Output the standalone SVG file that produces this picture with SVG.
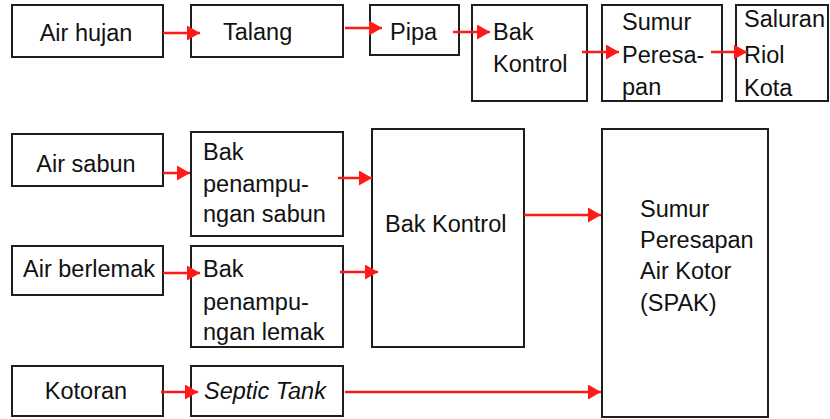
<svg xmlns="http://www.w3.org/2000/svg" width="830" height="419" viewBox="0 0 830 419">
  <style>
    .box { fill: #ffffff; stroke: #1e1e1e; stroke-width: 2; }
    .lbl { font-family: "Liberation Sans", Arial, sans-serif; font-size: 23.5px; fill: #111111; }
    .it { font-style: italic; }
    .flow { stroke: #ff1a1a; stroke-width: 2.5; fill: none; marker-end: url(#head); }
  </style>
  <defs>
    <marker id="head" markerUnits="userSpaceOnUse" markerWidth="13" markerHeight="15" refX="13" refY="7.5" orient="auto">
      <path d="M0,0 L13,7.5 L0,15 z" fill="#ff1a1a"/>
    </marker>
  </defs>
  <rect width="830" height="419" fill="#ffffff"/>

  <!-- top row: rainwater path -->
  <g id="air-hujan">
    <rect class="box" x="12" y="5" width="151" height="52"/>
    <text class="lbl" x="86" y="41" text-anchor="middle">Air hujan</text>
  </g>
  <g id="talang">
    <rect class="box" x="191" y="5" width="152" height="52"/>
    <text class="lbl" x="223" y="40">Talang</text>
  </g>
  <g id="pipa">
    <rect class="box" x="370" y="5" width="89" height="50"/>
    <text class="lbl" x="390" y="40">Pipa</text>
  </g>
  <g id="bak-kontrol-atas">
    <rect class="box" x="472" y="5" width="115" height="96"/>
    <text class="lbl" x="493" y="40">Bak</text>
    <text class="lbl" x="493" y="72">Kontrol</text>
  </g>
  <g id="sumur-peresapan">
    <rect class="box" x="602" y="5" width="120" height="96"/>
    <text class="lbl" x="622" y="30">Sumur</text>
    <text class="lbl" x="622" y="63">Peresa-</text>
    <text class="lbl" x="622" y="95">pan</text>
  </g>
  <g id="saluran-riol">
    <rect class="box" x="736" y="5" width="92" height="96"/>
    <text class="lbl" x="744" y="27">Saluran</text>
    <text class="lbl" x="744" y="63">Riol</text>
    <text class="lbl" x="744" y="96">Kota</text>
  </g>

  <!-- lower section: grey water and sewage -->
  <g id="air-sabun">
    <rect class="box" x="12" y="134" width="151" height="52"/>
    <text class="lbl" x="86" y="172" text-anchor="middle">Air sabun</text>
  </g>
  <g id="bak-sabun">
    <rect class="box" x="191" y="132" width="152" height="104"/>
    <text class="lbl" x="203" y="160">Bak</text>
    <text class="lbl" x="203" y="192">penampu-</text>
    <text class="lbl" x="203" y="222">ngan sabun</text>
  </g>
  <g id="air-berlemak">
    <rect class="box" x="12" y="246" width="151" height="49"/>
    <text class="lbl" x="89" y="277" text-anchor="middle">Air berlemak</text>
  </g>
  <g id="bak-lemak">
    <rect class="box" x="191" y="246" width="152" height="101"/>
    <text class="lbl" x="203" y="277">Bak</text>
    <text class="lbl" x="203" y="310">penampu-</text>
    <text class="lbl" x="203" y="340">ngan lemak</text>
  </g>
  <g id="bak-kontrol">
    <rect class="box" x="372" y="129" width="152" height="218"/>
    <text class="lbl" x="385" y="232">Bak Kontrol</text>
  </g>
  <g id="spak">
    <rect class="box" x="602" y="129" width="166" height="288"/>
    <text class="lbl" x="640" y="217">Sumur</text>
    <text class="lbl" x="640" y="248">Peresapan</text>
    <text class="lbl" x="640" y="279">Air Kotor</text>
    <text class="lbl" x="640" y="311">(SPAK)</text>
  </g>
  <g id="kotoran">
    <rect class="box" x="12" y="366" width="151" height="50"/>
    <text class="lbl" x="86" y="399" text-anchor="middle">Kotoran</text>
  </g>
  <g id="septic-tank">
    <rect class="box" x="191" y="366" width="152" height="50"/>
    <text class="lbl it" x="204" y="399">Septic Tank</text>
  </g>

  <!-- connectors -->
  <g id="connectors">
    <line class="flow" x1="163" y1="33" x2="200" y2="33"/>
    <line class="flow" x1="345" y1="28" x2="382" y2="28"/>
    <line class="flow" x1="453" y1="32" x2="490" y2="32"/>
    <line class="flow" x1="582" y1="52" x2="619" y2="52"/>
    <line class="flow" x1="711" y1="52" x2="747" y2="52"/>
    <line class="flow" x1="163" y1="173" x2="190" y2="173"/>
    <line class="flow" x1="338" y1="178" x2="372" y2="178"/>
    <line class="flow" x1="163" y1="273" x2="200" y2="273"/>
    <line class="flow" x1="340" y1="272" x2="378" y2="272"/>
    <line class="flow" x1="524" y1="215" x2="601" y2="215"/>
    <line class="flow" x1="161" y1="392" x2="198" y2="392"/>
    <line class="flow" x1="345" y1="392" x2="601" y2="392"/>
  </g>
</svg>
